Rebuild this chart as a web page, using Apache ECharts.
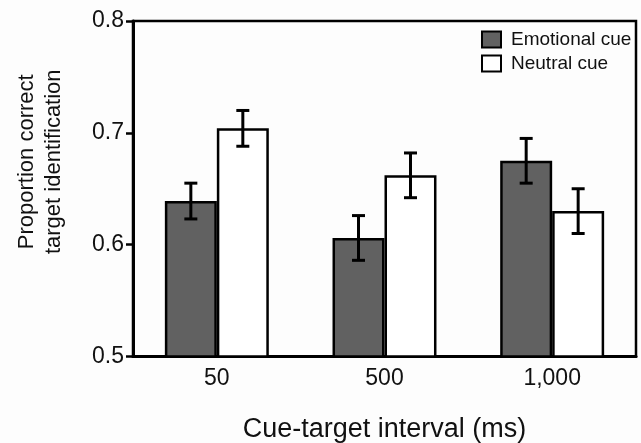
<!DOCTYPE html>
<html>
<head>
<meta charset="utf-8">
<script src="https://cdn.jsdelivr.net/npm/echarts@6/dist/echarts.min.js"></script>
<style>
html,body{margin:0;padding:0;background:#fdfdfd;}
#chart{width:641px;height:443px;}
</style>
</head>
<body>
<div id="chart"></div>
<script>
var categories = ['50', '500', '1,000'];
var emotionalValues = [0.639, 0.606, 0.675];
var emotionalErrors = [0.016, 0.020, 0.020];
var neutralValues = [0.704, 0.662, 0.630];
var neutralErrors = [0.016, 0.020, 0.020];
var yTicks = [0.5, 0.6, 0.7, 0.8];

var FONT = '"Liberation Sans", Arial, sans-serif';
var CAT_GAP = 0.38;

function errorSeries(values, errors, side) {
  var data = values.map(function (v, i) { return [i, v - errors[i], v + errors[i]]; });
  return {
    type: 'custom',
    silent: true,
    z: 10,
    data: data,
    renderItem: function (params, api) {
      var band = api.size([1, 0])[0];
      var barW = band * (1 - CAT_GAP) / 2;
      var lo = api.coord([api.value(0), api.value(1)]);
      var hi = api.coord([api.value(0), api.value(2)]);
      var x = lo[0] + side * barW / 2;
      var cap = 6.5;
      var st = { stroke: '#000', lineWidth: 3 };
      return {
        type: 'group',
        children: [
          { type: 'line', shape: { x1: x, y1: lo[1], x2: x, y2: hi[1] }, style: st },
          { type: 'line', shape: { x1: x - cap, y1: lo[1], x2: x + cap, y2: lo[1] }, style: st },
          { type: 'line', shape: { x1: x - cap, y1: hi[1], x2: x + cap, y2: hi[1] }, style: st }
        ]
      };
    }
  };
}

var chart = echarts.init(document.getElementById('chart'));
chart.setOption({
  backgroundColor: '#fdfdfd',
  animation: false,
  textStyle: { fontFamily: FONT },
  grid: { left: 133, right: 5, top: 21, bottom: 86.5, outerBoundsMode: 'none', containLabel: false, show: true, borderColor: '#000', borderWidth: 2.5, backgroundColor: 'transparent' },
  legend: {
    orient: 'vertical',
    left: 481,
    top: 30,
    padding: 0,
    icon: 'rect',
    itemWidth: 19,
    itemHeight: 16,
    itemGap: 5,
    itemStyle: { borderWidth: 2, borderColor: '#000' },
    textStyle: { fontFamily: FONT, fontSize: 19, color: '#111', padding: [0, 0, 0, 5] },
    data: ['Emotional cue', 'Neutral cue']
  },
  xAxis: {
    type: 'category',
    data: categories,
    name: 'Cue-target interval (ms)',
    nameLocation: 'middle',
    nameGap: 60,
    nameTextStyle: { fontFamily: FONT, fontSize: 27, color: '#111' },
    axisLine: { lineStyle: { color: '#000', width: 3 } },
    axisTick: { alignWithLabel: true, length: 7, lineStyle: { color: '#000', width: 2.5 } },
    axisLabel: { fontFamily: FONT, fontSize: 23, color: '#111', margin: 11 }
  },
  yAxis: {
    type: 'value',
    min: yTicks[0],
    max: yTicks[yTicks.length - 1],
    interval: 0.1,
    name: 'Proportion correct\ntarget identification',
    nameLocation: 'middle',
    nameGap: 66,
    nameTextStyle: { fontFamily: FONT, fontSize: 22, color: '#111', lineHeight: 27, padding: [0, 0, 0, 54] },
    axisLine: { show: true, lineStyle: { color: '#000', width: 3 } },
    axisTick: { show: true, length: 7, lineStyle: { color: '#000', width: 2.5 } },
    axisLabel: { fontFamily: FONT, fontSize: 23, color: '#111', margin: 9, formatter: function (v) { return v.toFixed(1); } },
    splitLine: { show: false }
  },
  series: [
    {
      name: 'Emotional cue',
      type: 'bar',
      data: emotionalValues,
      barGap: '0%',
      barCategoryGap: (CAT_GAP * 100) + '%',
      itemStyle: { color: '#616161', borderColor: '#000', borderWidth: 2.5 }
    },
    {
      name: 'Neutral cue',
      type: 'bar',
      data: neutralValues,
      itemStyle: { color: '#ffffff', borderColor: '#000', borderWidth: 2.5 }
    },
    errorSeries(emotionalValues, emotionalErrors, -1),
    errorSeries(neutralValues, neutralErrors, 1)
  ]
});
</script>
</body>
</html>
